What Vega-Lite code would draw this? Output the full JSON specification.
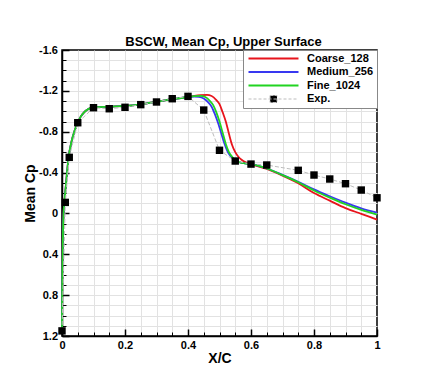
{
  "$schema": "https://vega.github.io/schema/vega-lite/v6.json",
  "width": 315,
  "height": 286,
  "autosize": {"type": "none"},
  "padding": {"left": 62, "top": 50, "right": 46, "bottom": 44},
  "background": "white",
  "title": {"text": "BSCW, Mean Cp, Upper Surface", "fontSize": 13, "fontWeight": "bold", "font": "Liberation Sans", "color": "black", "anchor": "middle", "frame": "group", "baseline": "alphabetic", "offset": 5.5, "dx": 4, "dy": 20},
  "config": {"view": {"stroke": "black", "strokeWidth": 1.5}, "font": "Liberation Sans"},
  "datasets": {
    "exp": [
      {"series": "Exp.", "x": 0, "cp": 1.15},
      {"series": "Exp.", "x": 0.0105, "cp": -0.108},
      {"series": "Exp.", "x": 0.023, "cp": -0.549},
      {"series": "Exp.", "x": 0.05, "cp": -0.888},
      {"series": "Exp.", "x": 0.1, "cp": -1.035},
      {"series": "Exp.", "x": 0.15, "cp": -1.025},
      {"series": "Exp.", "x": 0.2, "cp": -1.039},
      {"series": "Exp.", "x": 0.25, "cp": -1.065},
      {"series": "Exp.", "x": 0.3, "cp": -1.091},
      {"series": "Exp.", "x": 0.35, "cp": -1.123},
      {"series": "Exp.", "x": 0.4, "cp": -1.146},
      {"series": "Exp.", "x": 0.45, "cp": -1.012},
      {"series": "Exp.", "x": 0.5, "cp": -0.618},
      {"series": "Exp.", "x": 0.55, "cp": -0.513},
      {"series": "Exp.", "x": 0.6, "cp": -0.483},
      {"series": "Exp.", "x": 0.65, "cp": -0.474},
      {"series": "Exp.", "x": 0.75, "cp": -0.422},
      {"series": "Exp.", "x": 0.8, "cp": -0.376},
      {"series": "Exp.", "x": 0.85, "cp": -0.337},
      {"series": "Exp.", "x": 0.9, "cp": -0.291},
      {"series": "Exp.", "x": 0.95, "cp": -0.229},
      {"series": "Exp.", "x": 1.0, "cp": -0.153}
    ],
    "cfd": [
      {"series": "Coarse_128", "x": 0, "cp": 1.15},
      {"series": "Coarse_128", "x": 0.0005, "cp": 0.85},
      {"series": "Coarse_128", "x": 0.001, "cp": 0.62},
      {"series": "Coarse_128", "x": 0.002, "cp": 0.4},
      {"series": "Coarse_128", "x": 0.003, "cp": 0.2},
      {"series": "Coarse_128", "x": 0.005, "cp": 0.0},
      {"series": "Coarse_128", "x": 0.008, "cp": -0.12},
      {"series": "Coarse_128", "x": 0.012, "cp": -0.26},
      {"series": "Coarse_128", "x": 0.016, "cp": -0.4},
      {"series": "Coarse_128", "x": 0.021, "cp": -0.55},
      {"series": "Coarse_128", "x": 0.03, "cp": -0.7},
      {"series": "Coarse_128", "x": 0.04, "cp": -0.81},
      {"series": "Coarse_128", "x": 0.05, "cp": -0.89},
      {"series": "Coarse_128", "x": 0.06, "cp": -0.95},
      {"series": "Coarse_128", "x": 0.07, "cp": -0.99},
      {"series": "Coarse_128", "x": 0.08, "cp": -1.015},
      {"series": "Coarse_128", "x": 0.09, "cp": -1.03},
      {"series": "Coarse_128", "x": 0.1, "cp": -1.037},
      {"series": "Coarse_128", "x": 0.15, "cp": -1.045},
      {"series": "Coarse_128", "x": 0.2, "cp": -1.052},
      {"series": "Coarse_128", "x": 0.25, "cp": -1.068},
      {"series": "Coarse_128", "x": 0.3, "cp": -1.092},
      {"series": "Coarse_128", "x": 0.35, "cp": -1.118},
      {"series": "Coarse_128", "x": 0.4, "cp": -1.14},
      {"series": "Coarse_128", "x": 0.42, "cp": -1.15},
      {"series": "Coarse_128", "x": 0.44, "cp": -1.157},
      {"series": "Coarse_128", "x": 0.46, "cp": -1.16},
      {"series": "Coarse_128", "x": 0.475, "cp": -1.15},
      {"series": "Coarse_128", "x": 0.49, "cp": -1.11},
      {"series": "Coarse_128", "x": 0.5, "cp": -1.07},
      {"series": "Coarse_128", "x": 0.51, "cp": -0.99},
      {"series": "Coarse_128", "x": 0.52, "cp": -0.9},
      {"series": "Coarse_128", "x": 0.53, "cp": -0.78},
      {"series": "Coarse_128", "x": 0.54, "cp": -0.67},
      {"series": "Coarse_128", "x": 0.55, "cp": -0.6},
      {"series": "Coarse_128", "x": 0.56, "cp": -0.555},
      {"series": "Coarse_128", "x": 0.57, "cp": -0.525},
      {"series": "Coarse_128", "x": 0.58, "cp": -0.505},
      {"series": "Coarse_128", "x": 0.6, "cp": -0.483},
      {"series": "Coarse_128", "x": 0.65, "cp": -0.435},
      {"series": "Coarse_128", "x": 0.7, "cp": -0.37},
      {"series": "Coarse_128", "x": 0.75, "cp": -0.295},
      {"series": "Coarse_128", "x": 0.8, "cp": -0.2},
      {"series": "Coarse_128", "x": 0.85, "cp": -0.125},
      {"series": "Coarse_128", "x": 0.9, "cp": -0.052},
      {"series": "Coarse_128", "x": 0.95, "cp": 0.004},
      {"series": "Coarse_128", "x": 1.0, "cp": 0.06},
      {"series": "Medium_256", "x": 0, "cp": 1.15},
      {"series": "Medium_256", "x": 0.0005, "cp": 0.85},
      {"series": "Medium_256", "x": 0.001, "cp": 0.62},
      {"series": "Medium_256", "x": 0.002, "cp": 0.4},
      {"series": "Medium_256", "x": 0.003, "cp": 0.2},
      {"series": "Medium_256", "x": 0.005, "cp": 0.0},
      {"series": "Medium_256", "x": 0.008, "cp": -0.12},
      {"series": "Medium_256", "x": 0.012, "cp": -0.26},
      {"series": "Medium_256", "x": 0.016, "cp": -0.4},
      {"series": "Medium_256", "x": 0.021, "cp": -0.55},
      {"series": "Medium_256", "x": 0.03, "cp": -0.7},
      {"series": "Medium_256", "x": 0.04, "cp": -0.81},
      {"series": "Medium_256", "x": 0.05, "cp": -0.89},
      {"series": "Medium_256", "x": 0.06, "cp": -0.95},
      {"series": "Medium_256", "x": 0.07, "cp": -0.99},
      {"series": "Medium_256", "x": 0.08, "cp": -1.015},
      {"series": "Medium_256", "x": 0.09, "cp": -1.03},
      {"series": "Medium_256", "x": 0.1, "cp": -1.037},
      {"series": "Medium_256", "x": 0.15, "cp": -1.045},
      {"series": "Medium_256", "x": 0.2, "cp": -1.052},
      {"series": "Medium_256", "x": 0.25, "cp": -1.068},
      {"series": "Medium_256", "x": 0.3, "cp": -1.092},
      {"series": "Medium_256", "x": 0.35, "cp": -1.118},
      {"series": "Medium_256", "x": 0.4, "cp": -1.14},
      {"series": "Medium_256", "x": 0.42, "cp": -1.145},
      {"series": "Medium_256", "x": 0.435, "cp": -1.142},
      {"series": "Medium_256", "x": 0.45, "cp": -1.125},
      {"series": "Medium_256", "x": 0.465, "cp": -1.085},
      {"series": "Medium_256", "x": 0.475, "cp": -1.045},
      {"series": "Medium_256", "x": 0.485, "cp": -0.975},
      {"series": "Medium_256", "x": 0.495, "cp": -0.89},
      {"series": "Medium_256", "x": 0.505, "cp": -0.79},
      {"series": "Medium_256", "x": 0.515, "cp": -0.69},
      {"series": "Medium_256", "x": 0.525, "cp": -0.61},
      {"series": "Medium_256", "x": 0.535, "cp": -0.56},
      {"series": "Medium_256", "x": 0.55, "cp": -0.525},
      {"series": "Medium_256", "x": 0.565, "cp": -0.5},
      {"series": "Medium_256", "x": 0.58, "cp": -0.49},
      {"series": "Medium_256", "x": 0.6, "cp": -0.483},
      {"series": "Medium_256", "x": 0.65, "cp": -0.44},
      {"series": "Medium_256", "x": 0.7, "cp": -0.378},
      {"series": "Medium_256", "x": 0.75, "cp": -0.31},
      {"series": "Medium_256", "x": 0.8, "cp": -0.235},
      {"series": "Medium_256", "x": 0.85, "cp": -0.168},
      {"series": "Medium_256", "x": 0.9, "cp": -0.105},
      {"series": "Medium_256", "x": 0.95, "cp": -0.05},
      {"series": "Medium_256", "x": 1.0, "cp": -0.007},
      {"series": "Fine_1024", "x": 0, "cp": 1.15},
      {"series": "Fine_1024", "x": 0.0005, "cp": 0.85},
      {"series": "Fine_1024", "x": 0.001, "cp": 0.62},
      {"series": "Fine_1024", "x": 0.002, "cp": 0.4},
      {"series": "Fine_1024", "x": 0.003, "cp": 0.2},
      {"series": "Fine_1024", "x": 0.005, "cp": 0.0},
      {"series": "Fine_1024", "x": 0.008, "cp": -0.12},
      {"series": "Fine_1024", "x": 0.012, "cp": -0.26},
      {"series": "Fine_1024", "x": 0.016, "cp": -0.4},
      {"series": "Fine_1024", "x": 0.021, "cp": -0.55},
      {"series": "Fine_1024", "x": 0.03, "cp": -0.7},
      {"series": "Fine_1024", "x": 0.04, "cp": -0.81},
      {"series": "Fine_1024", "x": 0.05, "cp": -0.89},
      {"series": "Fine_1024", "x": 0.06, "cp": -0.95},
      {"series": "Fine_1024", "x": 0.07, "cp": -0.99},
      {"series": "Fine_1024", "x": 0.08, "cp": -1.015},
      {"series": "Fine_1024", "x": 0.09, "cp": -1.03},
      {"series": "Fine_1024", "x": 0.1, "cp": -1.037},
      {"series": "Fine_1024", "x": 0.15, "cp": -1.045},
      {"series": "Fine_1024", "x": 0.2, "cp": -1.052},
      {"series": "Fine_1024", "x": 0.25, "cp": -1.068},
      {"series": "Fine_1024", "x": 0.3, "cp": -1.092},
      {"series": "Fine_1024", "x": 0.35, "cp": -1.118},
      {"series": "Fine_1024", "x": 0.4, "cp": -1.14},
      {"series": "Fine_1024", "x": 0.42, "cp": -1.148},
      {"series": "Fine_1024", "x": 0.44, "cp": -1.15},
      {"series": "Fine_1024", "x": 0.455, "cp": -1.14},
      {"series": "Fine_1024", "x": 0.47, "cp": -1.1},
      {"series": "Fine_1024", "x": 0.48, "cp": -1.06},
      {"series": "Fine_1024", "x": 0.49, "cp": -0.99},
      {"series": "Fine_1024", "x": 0.5, "cp": -0.9},
      {"series": "Fine_1024", "x": 0.51, "cp": -0.79},
      {"series": "Fine_1024", "x": 0.52, "cp": -0.68},
      {"series": "Fine_1024", "x": 0.53, "cp": -0.6},
      {"series": "Fine_1024", "x": 0.54, "cp": -0.555},
      {"series": "Fine_1024", "x": 0.55, "cp": -0.525},
      {"series": "Fine_1024", "x": 0.565, "cp": -0.5},
      {"series": "Fine_1024", "x": 0.58, "cp": -0.49},
      {"series": "Fine_1024", "x": 0.6, "cp": -0.483},
      {"series": "Fine_1024", "x": 0.65, "cp": -0.44},
      {"series": "Fine_1024", "x": 0.7, "cp": -0.375},
      {"series": "Fine_1024", "x": 0.75, "cp": -0.305},
      {"series": "Fine_1024", "x": 0.8, "cp": -0.225},
      {"series": "Fine_1024", "x": 0.85, "cp": -0.155},
      {"series": "Fine_1024", "x": 0.9, "cp": -0.09},
      {"series": "Fine_1024", "x": 0.95, "cp": -0.035},
      {"series": "Fine_1024", "x": 1.0, "cp": 0.012}
    ]
  },
  "layer": [
    {
      "data": {"name": "exp"},
      "mark": {"type": "point", "opacity": 0},
      "encoding": {
        "x": {"field": "x", "type": "quantitative", "scale": {"domain": [0, 1], "nice": false, "zero": false},
          "axis": {"orient": "bottom", "values": [0.05,0.1,0.15,0.2,0.25,0.3,0.35,0.4,0.45,0.5,0.55,0.6,0.65,0.7,0.75,0.8,0.85,0.9,0.95], "grid": true, "gridColor": "#e2e2e2", "gridWidth": 1, "ticks": true, "tickSize": -4, "tickColor": "black", "tickWidth": 1, "labels": false, "domain": false, "title": null}},
        "y": {"field": "cp", "type": "quantitative", "scale": {"domain": [-1.6, 1.2], "reverse": true, "nice": false, "zero": false},
          "axis": {"orient": "left", "values": [-1.5,-1.4,-1.3,-1.2,-1.1,-1,-0.9,-0.8,-0.7,-0.6,-0.5,-0.4,-0.3,-0.2,-0.1,0,0.1,0.2,0.3,0.4,0.5,0.6,0.7,0.8,0.9,1,1.1], "grid": true, "gridColor": "#e2e2e2", "gridWidth": 1, "ticks": true, "tickSize": -4, "tickColor": "black", "tickWidth": 1, "labels": false, "domain": false, "title": null}}
      }
    },
    {
      "data": {"name": "exp"},
      "mark": {"type": "point", "opacity": 0},
      "encoding": {
        "x": {"field": "x", "type": "quantitative",
          "axis": {"orient": "bottom", "values": [0, 0.2, 0.4, 0.6, 0.8, 1], "grid": false, "ticks": true, "tickSize": -7, "tickColor": "black", "tickWidth": 1.5, "labels": false, "domain": false, "title": null}},
        "y": {"field": "cp", "type": "quantitative",
          "axis": {"orient": "left", "values": [-1.6, -1.2, -0.8, -0.4, 0, 0.4, 0.8, 1.2], "grid": false, "ticks": true, "tickSize": -7, "tickColor": "black", "tickWidth": 1.5, "labels": false, "domain": false, "title": null}}
      }
    },
    {
      "data": {"name": "cfd"},
      "mark": {"type": "line", "strokeWidth": 1.8, "interpolate": "monotone"},
      "encoding": {
        "x": {"field": "x", "type": "quantitative",
          "axis": {"orient": "bottom", "values": [0, 0.2, 0.4, 0.6, 0.8, 1], "grid": false, "ticks": false, "domain": true, "domainColor": "black", "domainWidth": 1.5, "labelFont": "Liberation Sans", "labelFontWeight": "bold", "labelFontSize": 11, "labelColor": "black", "labelPadding": 3, "labelFlush": false, "labelOverlap": false, "labelExpr": "datum.value == 0 ? '0' : datum.value == 1 ? '1' : format(datum.value, '.1f')", "title": "X/C", "titleFont": "Liberation Sans", "titleFontSize": 14, "titleFontWeight": "bold", "titleColor": "black", "titlePadding": 1}},
        "y": {"field": "cp", "type": "quantitative",
          "axis": {"orient": "left", "values": [-1.6, -1.2, -0.8, -0.4, 0, 0.4, 0.8, 1.2], "grid": false, "ticks": false, "domain": true, "domainColor": "black", "domainWidth": 1.5, "labelFont": "Liberation Sans", "labelFontWeight": "bold", "labelFontSize": 11, "labelColor": "black", "labelPadding": 4.5, "labelFlush": false, "labelOverlap": false, "labelExpr": "datum.value == 0 ? '0' : (datum.value < 0 ? '-' : '') + format(abs(datum.value), '.1f')", "title": "Mean Cp", "titleFont": "Liberation Sans", "titleFontSize": 14, "titleFontWeight": "bold", "titleColor": "black", "titlePadding": 1}},
        "color": {"field": "series", "type": "nominal",
          "scale": {"domain": ["Coarse_128", "Medium_256", "Fine_1024", "Exp."], "range": ["#e8141c", "#3838f0", "#21d421", "#bdbdbd"]},
          "legend": {
            "orient": "top-right", "offset": 0, "title": null,
            "symbolType": "M-10,0H10", "symbolSize": 25, "symbolStrokeWidth": 2, "symbolOffset": 22,
            "labelFont": "Liberation Sans", "labelFontWeight": "bold", "labelFontSize": 11, "labelColor": "black", "labelOffset": 28, "labelLimit": 200,
            "padding": 3, "rowPadding": 1.5, "strokeColor": "#888888", "fillColor": "white",
            "encode": {"symbols": {"update": {
              "shape": {"signal": "datum.value === 'Exp.' ? 'M-10,0H10M-1.4,-1.4H1.4V1.4H-1.4Z' : 'M-10,0H10'"},
              "fill": {"signal": "datum.value === 'Exp.' ? 'black' : 'transparent'"},
              "strokeWidth": {"signal": "datum.value === 'Exp.' ? 1 : 2"},
              "strokeDash": {"signal": "datum.value === 'Exp.' ? [3, 2] : [10, 0]"}
            }}}
          }}
      }
    },
    {
      "data": {"name": "exp"},
      "mark": {"type": "line", "strokeWidth": 1, "strokeDash": [4, 2]},
      "encoding": {
        "x": {"field": "x", "type": "quantitative", "axis": null},
        "y": {"field": "cp", "type": "quantitative", "axis": null},
        "color": {"field": "series", "type": "nominal"}
      }
    },
    {
      "data": {"name": "exp"},
      "mark": {"type": "point", "shape": "square", "filled": true, "color": "black", "size": 55, "opacity": 1},
      "encoding": {
        "x": {"field": "x", "type": "quantitative", "axis": null},
        "y": {"field": "cp", "type": "quantitative", "axis": null}
      }
    }
  ],
  "resolve": {"axis": {"x": "independent", "y": "independent"}}
}
